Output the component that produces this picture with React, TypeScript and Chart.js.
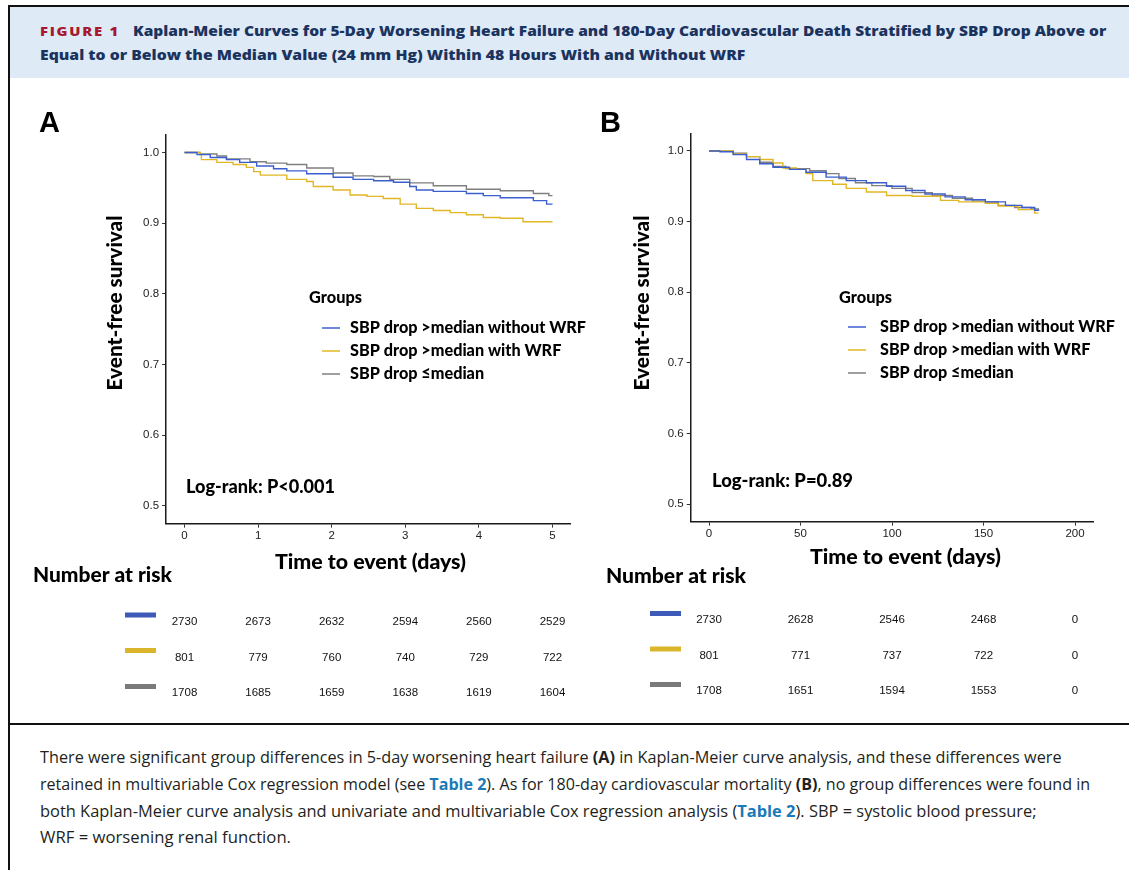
import React, { useEffect, useLayoutEffect, useRef } from 'react';
import { Chart, registerables } from 'chart.js';

Chart.register(...registerables);

// ---------------- DATA ----------------
const GROUPS = ['SBP drop >median without WRF', 'SBP drop >median with WRF', 'SBP drop ≤median'];
const LINE_COLORS = ['#3b5fcf', '#e2b726', '#7f7f7f'];
const BAR_COLORS = ['#3d5ab8', '#dbb52b', '#7a7a7a'];

const Y_TICKS = [0.5, 0.6, 0.7, 0.8, 0.9, 1.0];
const A_X_TICKS = [0, 1, 2, 3, 4, 5];
const B_X_TICKS = [0, 50, 100, 150, 200];

// Panel A: 5-day worsening heart failure
const A_BLUE_T = [0, 0.17, 0.35, 0.57, 0.75, 0.98, 1.21, 1.39, 1.66, 2.02, 2.29, 2.57, 2.84, 3.06, 3.15, 3.38, 3.83, 4.06, 4.29, 4.74, 4.92, 5.0];
const A_BLUE_S = [1.0, 0.997, 0.993, 0.99, 0.986, 0.981, 0.977, 0.974, 0.97, 0.965, 0.962, 0.96, 0.958, 0.952, 0.947, 0.945, 0.942, 0.939, 0.936, 0.932, 0.927, 0.927];
const A_YELLOW_T = [0, 0.07, 0.21, 0.23, 0.44, 0.66, 0.84, 0.94, 1.03, 1.39, 1.66, 1.75, 2.02, 2.25, 2.48, 2.7, 2.93, 3.15, 3.38, 3.61, 3.83, 4.06, 4.29, 4.6, 5.0];
const A_YELLOW_S = [1.0, 1.0, 0.997, 0.99, 0.986, 0.983, 0.979, 0.973, 0.968, 0.962, 0.959, 0.952, 0.947, 0.94, 0.938, 0.935, 0.927, 0.921, 0.918, 0.915, 0.912, 0.908, 0.907, 0.902, 0.902];
const A_GRAY_T = [0, 0.21, 0.44, 0.57, 0.89, 1.11, 1.39, 1.66, 2.02, 2.29, 2.57, 2.79, 3.06, 3.38, 3.83, 4.29, 4.74, 4.95, 5.0];
const A_GRAY_S = [1.0, 0.998, 0.995, 0.991, 0.987, 0.985, 0.983, 0.978, 0.971, 0.967, 0.966, 0.962, 0.957, 0.953, 0.948, 0.946, 0.942, 0.939, 0.939];

// Panel B: 180-day cardiovascular death
const B_BLUE_T = [0, 6, 13.2, 20.5, 27.7, 35, 44, 53, 64, 75, 86, 97, 107.5, 118, 129, 140, 151, 162, 171, 178, 180];
const B_BLUE_S = [1.0, 0.999, 0.995, 0.988, 0.982, 0.977, 0.974, 0.97, 0.963, 0.958, 0.955, 0.95, 0.944, 0.939, 0.935, 0.931, 0.928, 0.923, 0.92, 0.916, 0.915];
const B_YELLOW_T = [0, 7.8, 13.2, 20.5, 27.7, 35, 40.4, 47.7, 53, 56.7, 67.6, 75, 86, 97, 111, 126.5, 136.5, 151, 158, 169, 178, 180];
const B_YELLOW_S = [1.0, 1.0, 0.996, 0.992, 0.988, 0.983, 0.976, 0.974, 0.968, 0.958, 0.953, 0.947, 0.942, 0.937, 0.936, 0.93, 0.928, 0.926, 0.922, 0.917, 0.912, 0.912];
const B_GRAY_T = [0, 6.9, 13.2, 20.5, 27.7, 35, 42, 55, 64, 71, 80, 89, 100, 111, 122, 133, 144, 151, 158, 167, 176, 180];
const B_GRAY_S = [1.0, 1.0, 0.997, 0.992, 0.984, 0.978, 0.975, 0.972, 0.968, 0.961, 0.955, 0.951, 0.947, 0.941, 0.937, 0.933, 0.929, 0.928, 0.923, 0.92, 0.918, 0.916];

// Number at risk
const A_RISK_TIMES = [0, 1, 2, 3, 4, 5];
const A_RISK_BLUE = [2730, 2673, 2632, 2594, 2560, 2529];
const A_RISK_YELLOW = [801, 779, 760, 740, 729, 722];
const A_RISK_GRAY = [1708, 1685, 1659, 1638, 1619, 1604];
const B_RISK_TIMES = [0, 50, 100, 150, 200];
const B_RISK_BLUE = [2730, 2628, 2546, 2468, 0];
const B_RISK_YELLOW = [801, 771, 737, 722, 0];
const B_RISK_GRAY = [1708, 1651, 1594, 1553, 0];

// ---------------- LAYOUT ----------------
const TITLE_FONT = 'Lato, "Open Sans", sans-serif';
const ARIAL = '"Liberation Sans", Arial, sans-serif';

const PANEL_A = {
  ox: 10, oy: 85, w: 580, h: 630,
  xMin: -0.25, xMax: 5.25, xTicks: A_X_TICKS,
  padTop: 49.85, padRight: 19.1, yAxisW: 156.1, xAxisH: 191.35,
  curves: [
    { t: A_BLUE_T, s: A_BLUE_S },
    { t: A_YELLOW_T, s: A_YELLOW_S },
    { t: A_GRAY_T, s: A_GRAY_S },
  ],
  letter: 'A', letterX: 39, letterY: 124,
  yTitle: { cx: 115, cy: 303, w: 175 },
  xTitle: { cx: 370.5, cy: 562, w: 191 },
  groups: { x: 309, y: 298, w: 53 },
  legend: { lineX: 322, textX: 350, ys: [328, 351, 374], w: 236 },
  logrank: { text: 'Log-rank: P<0.001', x: 186, y: 487, w: 149 },
  nar: { x: 33, y: 575, w: 139 },
  bars: { x: 125, w: 31, ys: [615, 650.5, 686.5], numYs: [622, 658, 693] },
  riskTimes: A_RISK_TIMES,
  risk: [A_RISK_BLUE, A_RISK_YELLOW, A_RISK_GRAY],
};

const PANEL_B = {
  ox: 590, oy: 85, w: 539, h: 630,
  xMin: -10, xMax: 210, xTicks: B_X_TICKS,
  padTop: 48.35, padRight: 35.7, yAxisW: 100.7, xAxisH: 193.35,
  curves: [
    { t: B_BLUE_T, s: B_BLUE_S },
    { t: B_YELLOW_T, s: B_YELLOW_S },
    { t: B_GRAY_T, s: B_GRAY_S },
  ],
  letter: 'B', letterX: 600, letterY: 124,
  yTitle: { cx: 642, cy: 303, w: 175 },
  xTitle: { cx: 905.5, cy: 557.5, w: 191 },
  groups: { x: 839, y: 298, w: 53 },
  legend: { lineX: 848, textX: 880, ys: [327, 350, 373], w: 235 },
  logrank: { text: 'Log-rank: P=0.89', x: 712, y: 481, w: 141 },
  nar: { x: 606, y: 576, w: 140 },
  bars: { x: 650, w: 31, ys: [613.5, 649, 684.5], numYs: [620, 656, 691] },
  riskTimes: B_RISK_TIMES,
  risk: [B_RISK_BLUE, B_RISK_YELLOW, B_RISK_GRAY],
};

// ---------------- HELPERS ----------------
function drawText(ctx, s, x, y, font, color, align = 'left', width = 0, rotate = false, sx0 = 0) {
  ctx.save();
  ctx.font = font;
  ctx.fillStyle = color;
  ctx.textBaseline = 'middle';
  ctx.textAlign = align;
  const m = ctx.measureText(s).width;
  const sx = sx0 || (width ? width / m : 1);
  ctx.translate(x, y);
  if (rotate) ctx.rotate(-Math.PI / 2);
  ctx.scale(sx, 1);
  ctx.fillText(s, 0, 0);
  ctx.restore();
}

function makeChart(canvas, P) {
  const X = (px) => px - P.ox;
  const Y = (py) => py - P.oy;
  const overlay = {
    id: 'overlay',
    afterDraw(chart) {
      const ctx = chart.ctx;
      drawText(ctx, P.letter, X(P.letterX), Y(P.letterY), `bold 29px ${ARIAL}`, '#000');
      drawText(ctx, 'Event-free survival', X(P.yTitle.cx), Y(P.yTitle.cy), `900 21px ${TITLE_FONT}`, '#000', 'center', P.yTitle.w, true);
      drawText(ctx, 'Time to event (days)', X(P.xTitle.cx), Y(P.xTitle.cy), `900 21px ${TITLE_FONT}`, '#000', 'center', P.xTitle.w);
      drawText(ctx, 'Groups', X(P.groups.x), Y(P.groups.y), `900 16px ${TITLE_FONT}`, '#000', 'left', P.groups.w);
      // legend
      ctx.save();
      ctx.font = `900 16px ${TITLE_FONT}`;
      const sx = P.legend.w / ctx.measureText(GROUPS[0]).width;
      ctx.restore();
      GROUPS.forEach((g, i) => {
        const yy = Y(P.legend.ys[i]);
        ctx.save();
        ctx.strokeStyle = LINE_COLORS[i];
        ctx.lineWidth = 1.5;
        ctx.beginPath();
        ctx.moveTo(X(P.legend.lineX), yy);
        ctx.lineTo(X(P.legend.lineX + 18), yy);
        ctx.stroke();
        ctx.restore();
        drawText(ctx, g, X(P.legend.textX), yy, `900 16px ${TITLE_FONT}`, '#000', 'left', 0, false, sx);
      });
      drawText(ctx, P.logrank.text, X(P.logrank.x), Y(P.logrank.y), `900 18px ${TITLE_FONT}`, '#000', 'left', P.logrank.w);
      drawText(ctx, 'Number at risk', X(P.nar.x), Y(P.nar.y), `900 21px ${TITLE_FONT}`, '#000', 'left', P.nar.w);
      // risk table
      const xs = chart.scales.x;
      P.risk.forEach((row, r) => {
        ctx.save();
        ctx.fillStyle = BAR_COLORS[r];
        ctx.fillRect(X(P.bars.x), Y(P.bars.ys[r]) - 2.5, P.bars.w, 5);
        ctx.restore();
        row.forEach((n, k) => {
          drawText(ctx, String(n), xs.getPixelForValue(P.riskTimes[k]), Y(P.bars.numYs[r]), `11.5px ${ARIAL}`, '#111', 'center');
        });
      });
    },
  };

  const datasets = P.curves.map((c, i) => ({
    label: GROUPS[i],
    data: c.t.map((t, j) => ({ x: t, y: c.s[j] })),
    borderColor: LINE_COLORS[i],
    backgroundColor: LINE_COLORS[i],
    borderWidth: 1.4,
    pointRadius: 0,
    pointHoverRadius: 0,
    stepped: 'before',
    fill: false,
  }));

  const axisCommon = {
    grid: { drawOnChartArea: false, drawTicks: true, tickLength: 4, color: '#333', lineWidth: 1 },
    border: { display: true, color: '#1a1a1a', width: 1.5 },
  };

  return new Chart(canvas, {
    type: 'line',
    data: { datasets },
    options: {
      animation: false,
      responsive: false,
      maintainAspectRatio: false,
      events: [],
      layout: { padding: { top: P.padTop, right: P.padRight, left: 0, bottom: 0 } },
      plugins: { legend: { display: false }, tooltip: { enabled: false }, title: { display: false } },
      scales: {
        x: {
          type: 'linear',
          min: P.xMin,
          max: P.xMax,
          ...axisCommon,
          afterBuildTicks: (s) => { s.ticks = P.xTicks.map((v) => ({ value: v })); },
          afterFit: (s) => { s.height = P.xAxisH; },
          ticks: { font: { family: ARIAL, size: 11.5 }, color: '#222', padding: 1, maxRotation: 0, autoSkip: false, callback: (v) => String(v) },
        },
        y: {
          type: 'linear',
          min: 0.475,
          max: 1.025,
          ...axisCommon,
          afterBuildTicks: (s) => { s.ticks = Y_TICKS.map((v) => ({ value: v })); },
          afterFit: (s) => { s.width = P.yAxisW; },
          ticks: { font: { family: ARIAL, size: 11.5 }, color: '#222', padding: 3, autoSkip: false, callback: (v) => Number(v).toFixed(1) },
        },
      },
    },
    plugins: [overlay],
  });
}

function FitText({ left, cy, width, size, family, weight = 400, color, lh = 20, spacing = 0, children }) {
  const ref = useRef(null);
  useLayoutEffect(() => {
    const el = ref.current;
    if (!el) return;
    el.style.transform = 'none';
    const w = el.offsetWidth;
    if (w > 0) el.style.transform = `scaleX(${width / w})`;
  });
  return (
    <span
      ref={ref}
      style={{
        position: 'absolute', left, top: cy - lh / 2, lineHeight: `${lh}px`, whiteSpace: 'nowrap',
        fontSize: size, fontFamily: family, fontWeight: weight, color, letterSpacing: spacing,
        transformOrigin: '0 50%', display: 'inline-block',
      }}
    >
      {children}
    </span>
  );
}

function ChartCanvas({ P }) {
  const ref = useRef(null);
  useEffect(() => {
    const c = makeChart(ref.current, P);
    return () => c.destroy();
  }, [P]);
  return (
    <canvas
      ref={ref}
      width={P.w}
      height={P.h}
      style={{ position: 'absolute', left: P.ox, top: P.oy, width: P.w, height: P.h }}
    />
  );
}

const HEAD_FONT = '"Open Sans", "Noto Sans", sans-serif';
const NAVY = '#1b345f';
const CAP = '#231f20';
const LINK = '#1a7ab8';

export default function App() {
  return (
    <div style={{ position: 'absolute', left: 0, top: 0, width: 1129, height: 870, background: '#fff', overflow: 'hidden' }}>
      {/* frame */}
      <div style={{ position: 'absolute', left: 10, top: 7, width: 1119, height: 71, background: '#deeaf6' }} />
      <div style={{ position: 'absolute', left: 8, top: 5, width: 1121, height: 2, background: '#111' }} />
      <div style={{ position: 'absolute', left: 8, top: 5, width: 2, height: 865, background: '#111' }} />
      <div style={{ position: 'absolute', left: 8, top: 723, width: 1121, height: 2, background: '#111' }} />

      {/* header */}
      <FitText left={40} cy={31} width={80} size={13} family={HEAD_FONT} weight={800} color="#a6192e" spacing={1.5}>FIGURE 1</FitText>
      <FitText left={133} cy={31} width={973} size={14.5} family={HEAD_FONT} weight={800} color={NAVY}>
        Kaplan-Meier Curves for 5-Day Worsening Heart Failure and 180-Day Cardiovascular Death Stratified by SBP Drop Above or
      </FitText>
      <FitText left={40} cy={55} width={705} size={14.5} family={HEAD_FONT} weight={800} color={NAVY}>
        Equal to or Below the Median Value (24 mm Hg) Within 48 Hours With and Without WRF
      </FitText>

      {/* charts */}
      <ChartCanvas P={PANEL_A} />
      <ChartCanvas P={PANEL_B} />

      {/* caption */}
      <FitText left={40} cy={757} width={1022} size={15.5} family={HEAD_FONT} color={CAP}>
        There were significant group differences in 5-day worsening heart failure <b>(A)</b> in Kaplan-Meier curve analysis, and these differences were
      </FitText>
      <FitText left={40} cy={784} width={1050} size={15.5} family={HEAD_FONT} color={CAP}>
        retained in multivariable Cox regression model (see <b style={{ color: LINK }}>Table 2</b>). As for 180-day cardiovascular mortality <b>(B)</b>, no group differences were found in
      </FitText>
      <FitText left={40} cy={811} width={997} size={15.5} family={HEAD_FONT} color={CAP}>
        both Kaplan-Meier curve analysis and univariate and multivariable Cox regression analysis (<b style={{ color: LINK }}>Table 2</b>). SBP = systolic blood pressure;
      </FitText>
      <FitText left={40} cy={837} width={251} size={15.5} family={HEAD_FONT} color={CAP}>
        WRF = worsening renal function.
      </FitText>
    </div>
  );
}
